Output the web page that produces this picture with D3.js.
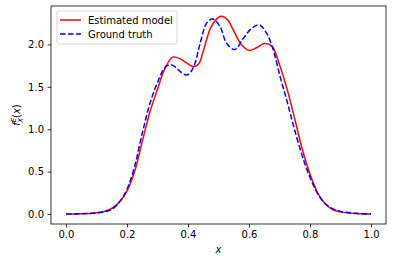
<!DOCTYPE html>
<html><head><meta charset="utf-8">
<script src="https://cdn.jsdelivr.net/npm/d3@7"></script>
<style>body{margin:0;background:#fff;} svg{display:block;font-family:"DejaVu Sans",sans-serif;}</style>
</head><body>
<script>
const seriesNames = ["Estimated model", "Ground truth"];
const estX = [0,0.05,0.1,0.125,0.15,0.175,0.2,0.225,0.25,0.275,0.3,0.325,0.35,0.375,0.4,0.417,0.435,0.45,0.475,0.5,0.515,0.53,0.55,0.575,0.6,0.625,0.65,0.675,0.7,0.725,0.75,0.775,0.8,0.825,0.85,0.875,0.9,0.95,1.0];
const estY = [0,0.002,0.015,0.03,0.065,0.14,0.27,0.5,0.85,1.2,1.47,1.72,1.85,1.83,1.77,1.74,1.77,1.92,2.2,2.32,2.33,2.29,2.16,2.0,1.93,1.96,2.01,1.98,1.76,1.47,1.12,0.76,0.47,0.25,0.12,0.05,0.025,0.005,0];
const truthX = [0,0.05,0.1,0.125,0.15,0.175,0.2,0.225,0.25,0.275,0.3,0.325,0.343,0.36,0.378,0.396,0.41,0.423,0.439,0.461,0.481,0.505,0.527,0.554,0.581,0.609,0.634,0.658,0.68,0.702,0.724,0.745,0.775,0.8,0.825,0.85,0.875,0.9,0.95,1.0];
const truthY = [0,0.002,0.012,0.025,0.055,0.14,0.29,0.56,0.95,1.3,1.55,1.73,1.76,1.73,1.67,1.64,1.68,1.78,2.0,2.25,2.30,2.21,2.01,1.94,2.07,2.19,2.23,2.13,1.93,1.62,1.34,1.05,0.68,0.43,0.24,0.12,0.06,0.03,0.008,0];
const xTicks = [0.0,0.2,0.4,0.6,0.8,1.0];
const yTicks = [0.0,0.5,1.0,1.5,2.0];

const W=393,H=262;
const svg=d3.select("body").append("svg").attr("width",W).attr("height",H);
const L=51,R=386,T=6,B=224;
const x=d3.scaleLinear().domain([-0.049,1.049]).range([L,R]);
const y=d3.scaleLinear().domain([-0.118,2.453]).range([B,T]);

const line=d3.line().x(d=>x(d[0])).y(d=>y(d[1])).curve(d3.curveCatmullRom.alpha(0.5));
const clip=svg.append("clipPath").attr("id","c").append("rect").attr("x",L).attr("y",T).attr("width",R-L).attr("height",B-T);
const g=svg.append("g").attr("clip-path","url(#c)");
g.append("path").datum(estX.map((v,i)=>[v,estY[i]])).attr("d",line).attr("fill","none").attr("stroke","#ff0000").attr("stroke-width",1.5);
g.append("path").datum(truthX.map((v,i)=>[v,truthY[i]])).attr("d",line).attr("fill","none").attr("stroke","#0000ff").attr("stroke-width",1.5).attr("stroke-dasharray","5.55,2.4");

const xAx=svg.append("g").attr("transform",`translate(0,${B})`).call(d3.axisBottom(x).tickValues(xTicks).tickFormat(d3.format(".1f")).tickSizeOuter(0).tickSize(3.5).tickPadding(3.5));
const yAx=svg.append("g").attr("transform",`translate(${L},0)`).call(d3.axisLeft(y).tickValues(yTicks).tickFormat(d3.format(".1f")).tickSizeOuter(0).tickSize(3.5).tickPadding(3.5));
[xAx,yAx].forEach(a=>{a.select(".domain").remove();a.selectAll("line").attr("stroke","#000").attr("stroke-width",0.8);a.selectAll("text").attr("font-size",10).attr("fill","#000").attr("font-family","DejaVu Sans");});
svg.append("rect").attr("x",L).attr("y",T).attr("width",R-L).attr("height",B-T).attr("fill","none").attr("stroke","#000").attr("stroke-width",0.8);

svg.append("text").attr("x",(L+R)/2).attr("y",253).attr("text-anchor","middle").attr("font-size",10).attr("font-style","italic").text("x");
const yl=svg.append("text").attr("transform",`translate(20,${(T+B)/2}) rotate(-90)`).attr("text-anchor","middle").attr("font-size",10);
yl.append("tspan").attr("font-style","italic").text("f");
yl.append("tspan").attr("font-size",7).attr("dy",-4).attr("font-style","italic").text("E");
yl.append("tspan").attr("font-size",7).attr("dx",-5).attr("dy",7).attr("font-style","italic").text("X");
yl.append("tspan").attr("dy",-3).text("(");
yl.append("tspan").attr("font-style","italic").text("x");
yl.append("tspan").text(")");

const lg=svg.append("g");
lg.append("rect").attr("x",57).attr("y",11).attr("width",120).attr("height",33).attr("rx",2).attr("fill","#fff").attr("fill-opacity",0.8).attr("stroke","#ccc").attr("stroke-width",0.8);
const cols=["#ff0000","#0000ff"];
seriesNames.forEach((n,i)=>{
  const yy=20+i*14;
  const l=lg.append("line").attr("x1",60).attr("x2",81).attr("y1",yy).attr("y2",yy).attr("stroke",cols[i]).attr("stroke-width",1.5);
  if(i==1) l.attr("stroke-dasharray","5.55,2.4");
  lg.append("text").attr("x",88).attr("y",yy+3.5).attr("font-size",10).attr("fill","#000").text(n);
});
</script>
</body></html>
